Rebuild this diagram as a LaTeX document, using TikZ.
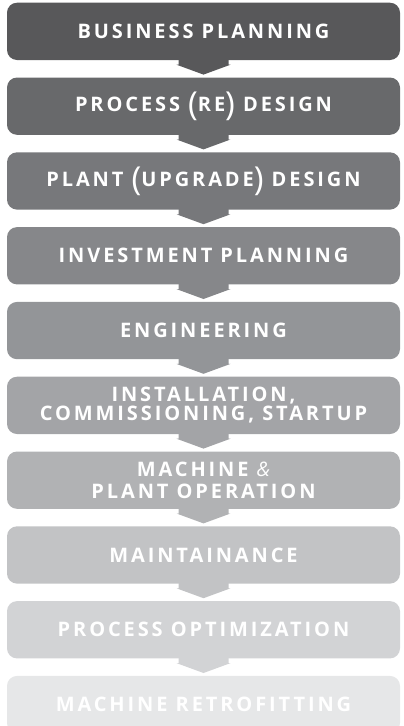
\documentclass[tikz,border=0pt]{standalone}
\usepackage{fontspec}
\setmainfont{Open Sans}
\usetikzlibrary{positioning, calc}
\definecolor{c1}{HTML}{58585A}
\definecolor{c2}{HTML}{68696B}
\definecolor{c3}{HTML}{77787B}
\definecolor{c4}{HTML}{86878A}
\definecolor{c5}{HTML}{939598}
\definecolor{c6}{HTML}{A3A4A7}
\definecolor{c7}{HTML}{B1B2B4}
\definecolor{c8}{HTML}{C2C3C5}
\definecolor{c9}{HTML}{D2D3D5}
\definecolor{c10}{HTML}{E6E7E8}
\def\paren#1{{\raisebox{-3.5pt}{\fontsize{33}{33}\selectfont\mdseries #1}}}
\def\amp{{\fontsize{20}{20}\selectfont\mdseries\itshape\&}}

\begin{document}
\begin{tikzpicture}[node distance=17.1pt,
	 					stage/.style = {minimum width=393pt, minimum height=57.3pt, inner sep=0pt,
	 						rounded corners=10pt, text=white, align=center,
	 						font=\fontsize{20}{18.7}\selectfont\bfseries\addfontfeature{LetterSpace=14.5}}]
	\useasboundingbox (0,0) rectangle (404pt,-726pt);
	\node[stage, fill=c1] (b1) at (203.5pt,-31.35pt) {BUSINESS PLANNING};
	\node[stage, fill=c2, below=of b1] (b2) {PROCESS \paren(RE\paren) DESIGN};
	\node[stage, fill=c3, below=of b2] (b3) {PLANT \paren(UPGRADE\paren) DESIGN};
	\node[stage, fill=c4, below=of b3] (b4) {INVESTMENT PLANNING};
	\node[stage, fill=c5, below=of b4] (b5) {ENGINEERING};
	\node[stage, fill=c6, below=of b5] (b6) {INSTALLATION,\\COMMISSIONING, STARTUP};
	\node[stage, fill=c7, below=of b6] (b7) {MACHINE \amp\\[3.3pt]PLANT OPERATION};
	\node[stage, fill=c8, below=of b7] (b8) {MAINTAINANCE};
	\node[stage, fill=c9, below=of b8] (b9) {PROCESS OPTIMIZATION};
	\node[stage, fill=c10, below=of b9] (b10) {MACHINE RETROFITTING};
	% arrows between the stages
	\foreach \i/\j in {1/2,2/3,3/4,4/5,5/6,6/7,7/8,8/9,9/10}
		\fill[c\i] ($(b\i.south)+(-25pt,1pt)$) -- ($(b\i.south)+(-25pt,-4.5pt)$)
			-- ($(b\i.south)+(-27pt,-4.5pt)$) -- ($(b\j.north)+(0,2.7pt)$)
			-- ($(b\i.south)+(27pt,-4.5pt)$) -- ($(b\i.south)+(25pt,-4.5pt)$)
			-- ($(b\i.south)+(25pt,1pt)$) -- cycle;
\end{tikzpicture}
\end{document}
